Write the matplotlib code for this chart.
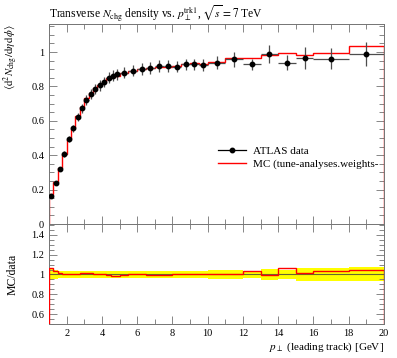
import numpy as np
import matplotlib
matplotlib.use("Agg")
import matplotlib.pyplot as plt
from matplotlib.ticker import MultipleLocator
from matplotlib.lines import Line2D

plt.rcParams['font.family'] = ['Liberation Serif', 'DejaVu Serif']
plt.rcParams['mathtext.fontset'] = 'stix'

# bin edges of leading track pT [GeV]
edges = [1.0, 1.25, 1.5, 1.75, 2.0, 2.25, 2.5, 2.75, 3.0, 3.25, 3.5, 3.75, 4.0,
         4.25, 4.5, 4.75, 5.0, 5.5, 6.0, 6.5, 7.0, 7.5, 8.0, 8.5, 9.0, 9.5, 10.0,
         11.0, 12.0, 13.0, 14.0, 15.0, 16.0, 18.0, 20.0]

data = [0.165, 0.238, 0.322, 0.407, 0.492, 0.556, 0.622, 0.672, 0.721, 0.756,
        0.787, 0.806, 0.827, 0.851, 0.862, 0.872,
        0.880, 0.891, 0.901, 0.909, 0.920, 0.920, 0.915, 0.928, 0.928, 0.922,
        0.938, 0.957, 0.928, 0.988, 0.938, 0.967, 0.961, 0.990]

data_err = [0.010, 0.010, 0.012, 0.015, 0.018, 0.020, 0.023, 0.025, 0.027, 0.028,
            0.029, 0.030, 0.030, 0.031, 0.032, 0.032,
            0.033, 0.033, 0.033, 0.034, 0.034, 0.034, 0.034, 0.034, 0.034, 0.035,
            0.039, 0.045, 0.033, 0.052, 0.045, 0.063, 0.060, 0.070]

mc = [0.175, 0.246, 0.328, 0.409, 0.492, 0.559, 0.628, 0.679, 0.730, 0.764,
      0.793, 0.810, 0.827, 0.847, 0.853, 0.863,
      0.876, 0.891, 0.901, 0.907, 0.915, 0.915, 0.920, 0.933, 0.935, 0.931,
      0.944, 0.963, 0.965, 0.983, 0.997, 0.984, 0.995, 1.035]

edges = np.array(edges)
data = np.array(data)
data_err = np.array(data_err)
mc = np.array(mc)
centers = 0.5 * (edges[1:] + edges[:-1])
halfw = 0.5 * (edges[1:] - edges[:-1])

fig = plt.figure(figsize=(3.97, 3.58), dpi=100)
ax = fig.add_axes([49/397, 1-224/358, 335/397, 200/358])
rax = fig.add_axes([49/397, 1-324/358, 335/397, 100/358], sharex=ax)

fc = '0.3'
ax.errorbar(centers, data, yerr=data_err, xerr=halfw, fmt='o', color='black',
            ecolor=fc, elinewidth=0.9, markersize=3.2, capsize=0, zorder=3)
ax.stairs(mc, edges, color='red', lw=1.0, zorder=2)

ax.set_xlim(1, 20)
ax.set_ylim(0, 1.163)
ax.yaxis.set_minor_locator(MultipleLocator(0.05))
ax.set_yticks([0, 0.2, 0.4, 0.6, 0.8, 1.0])
ax.set_yticklabels(['0', '0.2', '0.4', '0.6', '0.8', '1'])
ax.xaxis.set_major_locator(MultipleLocator(2))
ax.xaxis.set_minor_locator(MultipleLocator(1))
plt.setp(ax.get_xticklabels(), visible=False)

ax.set_title(r'Transverse $N_\mathrm{chg}$ density vs. $p_\perp^\mathrm{trk1}$, $\sqrt{s} = 7$ TeV',
             loc='left', fontsize=8.3, pad=5)
ax.set_ylabel(r'$\langle \mathrm{d}^2 N_\mathrm{chg}/\mathrm{d}\eta\,\mathrm{d}\phi \rangle$',
              fontsize=7.8, loc='top')

handles = [Line2D([], [], color='black', marker='o', markersize=3.2, lw=0.9),
           Line2D([], [], color='red', lw=1.0)]
labels = ['ATLAS data', 'MC (tune-analyses.weights-']
ax.legend(handles, labels, loc='upper left', bbox_to_anchor=(0.49, 0.41), frameon=False,
          fontsize=8, handlelength=2.6, borderaxespad=0, handletextpad=0.6,
          labelspacing=0.25)

# ratio panel
rel = data_err / data
ratio = mc / data
rax.stairs(1 + rel, edges, baseline=1 - rel, fill=True, color='#ffff00', lw=0, zorder=1)
rax.axhline(1.0, color='#666633', lw=0.8, zorder=2)
rax.stairs(ratio, edges, color='red', lw=1.0, zorder=3)
rax.set_ylim(0.5, 1.51)
rax.set_yticks([0.6, 0.8, 1.0, 1.2, 1.4])
rax.set_yticklabels(['0.6', '0.8', '1', '1.2', '1.4'])
rax.yaxis.set_minor_locator(MultipleLocator(0.05))
rax.set_xticks(np.arange(2, 21, 2))
rax.set_xticklabels([str(v) for v in range(2, 21, 2)])
rax.set_ylabel('MC/data', fontsize=8.5)
rax.set_xlabel(r'$p_\perp$ (leading track) [GeV]', fontsize=8, loc='right', labelpad=2)

for a in (ax, rax):
    a.tick_params(which='both', direction='in', top=True, right=True,
                  labelsize=7.5, color='0.45', width=0.6)
    a.tick_params(which='major', length=6)
    a.tick_params(which='minor', length=3.5)
    for s in a.spines.values():
        s.set_color('0.45')
        s.set_linewidth(0.7)

ax.yaxis.set_label_coords(-0.085, 1.0)
rax.yaxis.set_label_coords(-0.09, 0.5)

fig.savefig('out.png', dpi=100)
